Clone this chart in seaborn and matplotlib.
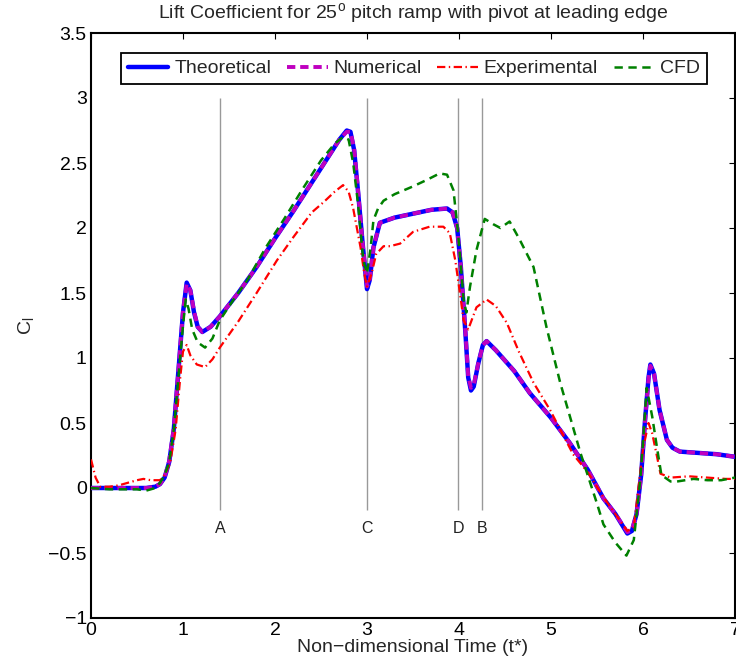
import numpy as np
import pandas as pd
import matplotlib
matplotlib.use("Agg")
import matplotlib.pyplot as plt
import seaborn as sns

# ---------------- data ----------------
theo_t = [0, 0.3, 0.6, 0.7, 0.75, 0.8, 0.85, 0.9, 0.95, 1.0, 1.04, 1.08, 1.12, 1.16, 1.21,
          1.3, 1.4, 1.6, 1.8, 2.0, 2.2, 2.4, 2.6, 2.7, 2.78, 2.82, 2.86, 2.9, 2.95, 3.0,
          3.03, 3.07, 3.14, 3.3, 3.5, 3.7, 3.87, 3.93, 3.98, 4.02, 4.07, 4.1, 4.13, 4.16,
          4.21, 4.26, 4.3, 4.4, 4.6, 4.77, 5.0, 5.2, 5.4, 5.57, 5.7, 5.83, 5.88, 5.93,
          5.98, 6.02, 6.06, 6.08, 6.12, 6.18, 6.26, 6.32, 6.4, 6.6, 6.8, 7.0]
theo_cl = [0, 0, 0, 0.01, 0.03, 0.08, 0.2, 0.45, 0.9, 1.35, 1.58, 1.52, 1.35, 1.24, 1.2,
           1.24, 1.32, 1.5, 1.7, 1.92, 2.13, 2.35, 2.57, 2.68, 2.75, 2.74, 2.6, 2.3, 1.9, 1.53,
           1.6, 1.85, 2.04, 2.08, 2.11, 2.14, 2.15, 2.12, 2.0, 1.7, 1.19, 0.85, 0.75, 0.78,
           0.96, 1.1, 1.13, 1.06, 0.9, 0.73, 0.54, 0.35, 0.14, -0.08, -0.2, -0.35, -0.33, -0.2,
           0.1, 0.5, 0.85, 0.95, 0.88, 0.6, 0.37, 0.31, 0.28, 0.27, 0.26, 0.24]

num_t = theo_t
num_cl = [0, 0, 0, 0.01, 0.03, 0.08, 0.21, 0.46, 0.9, 1.36, 1.57, 1.52, 1.36, 1.24, 1.2,
          1.24, 1.32, 1.5, 1.7, 1.92, 2.13, 2.35, 2.57, 2.68, 2.74, 2.74, 2.61, 2.31, 1.9, 1.55,
          1.6, 1.85, 2.04, 2.08, 2.11, 2.14, 2.15, 2.12, 2.0, 1.7, 1.2, 0.86, 0.77, 0.79,
          0.96, 1.1, 1.13, 1.06, 0.9, 0.73, 0.54, 0.35, 0.14, -0.08, -0.2, -0.34, -0.32, -0.2,
          0.1, 0.5, 0.84, 0.94, 0.88, 0.6, 0.37, 0.31, 0.28, 0.27, 0.26, 0.24]

exp_t = [0, 0.05, 0.1, 0.2, 0.3, 0.4, 0.5, 0.57, 0.65, 0.75, 0.8, 0.86, 0.92, 0.97, 1.0,
         1.04, 1.08, 1.15, 1.24, 1.32, 1.4, 1.6, 1.8, 2.02, 2.2, 2.4, 2.53, 2.65, 2.74, 2.8,
         2.85, 2.89, 2.93, 2.97, 3.0, 3.05, 3.1, 3.18, 3.25, 3.36, 3.5, 3.68, 3.83, 3.9,
         3.96, 4.01, 4.05, 4.1, 4.19, 4.3, 4.4, 4.52, 4.65, 4.81, 4.99, 5.1, 5.24, 5.4,
         5.57, 5.7, 5.83, 5.9, 5.95, 6.0, 6.06, 6.1, 6.15, 6.19, 6.3, 6.5, 6.7, 6.9, 7.0]
exp_cl = [0.22, 0.08, 0.01, 0.01, 0.02, 0.04, 0.06, 0.07, 0.06, 0.06, 0.1, 0.19, 0.45, 0.85, 1.05,
          1.1, 1.02, 0.95, 0.93, 0.99, 1.08, 1.28, 1.5, 1.75, 1.93, 2.12, 2.2, 2.28, 2.33, 2.28,
          2.15, 2.0, 1.85, 1.65, 1.55, 1.65, 1.8, 1.86, 1.86, 1.88, 1.97, 2.01, 2.01, 1.96,
          1.75, 1.5, 1.29, 1.22, 1.39, 1.45, 1.4, 1.27, 1.05, 0.81, 0.6, 0.45, 0.26, 0.12,
          -0.07, -0.2, -0.33, -0.3, 0.0, 0.3, 0.5, 0.42, 0.25, 0.11, 0.08, 0.09, 0.08, 0.07, 0.07]

cfd_t = [0, 0.2, 0.4, 0.5, 0.6, 0.7, 0.75, 0.8, 0.85, 0.9, 0.95, 1.0, 1.03, 1.06, 1.1,
         1.16, 1.24, 1.32, 1.4, 1.55, 1.7, 1.9, 2.1, 2.3, 2.5, 2.65, 2.74, 2.8, 2.85, 2.9,
         2.96, 3.0, 3.04, 3.07, 3.12, 3.18, 3.3, 3.5, 3.65, 3.79, 3.87, 3.94, 3.99, 4.05,
         4.08, 4.12, 4.19, 4.28, 4.37, 4.45, 4.55, 4.66, 4.81, 4.95, 5.1, 5.32, 5.5, 5.57,
         5.7, 5.82, 5.9, 5.97, 6.0, 6.04, 6.1, 6.15, 6.2, 6.3, 6.37, 6.55, 6.7, 6.85, 7.0]
cfd_cl = [0, -0.01, -0.01, -0.01, -0.02, 0.0, 0.04, 0.1, 0.2, 0.45, 0.85, 1.25, 1.45, 1.38, 1.22,
          1.12, 1.08, 1.15, 1.29, 1.45, 1.6, 1.85, 2.07, 2.3, 2.52, 2.65, 2.7, 2.68, 2.5, 2.2,
          1.75, 1.65, 1.85, 2.06, 2.15, 2.21, 2.26, 2.32, 2.37, 2.42, 2.41, 2.29, 1.96, 1.45,
          1.35, 1.55, 1.83, 2.07, 2.03, 2.0, 2.05, 1.91, 1.7, 1.24, 0.81, 0.27, -0.12, -0.28,
          -0.42, -0.52, -0.4, 0.06, 0.35, 0.77, 0.55, 0.32, 0.1, 0.05, 0.05, 0.07, 0.06, 0.06, 0.08]

series_names = ["Theoretical", "Numerical", "Experimental", "CFD"]

marker_t = [1.4, 3.0, 3.99, 4.25]
marker_labels = ["A", "C", "D", "B"]

x_ticks = [0, 1, 2, 3, 4, 5, 6, 7]
x_ticklabels = ["0", "1", "2", "3", "4", "5", "6", "7"]
y_ticks = [-1, -0.5, 0, 0.5, 1, 1.5, 2, 2.5, 3, 3.5]
y_ticklabels = ["\u22121", "\u22120.5", "0", "0.5", "1", "1.5", "2", "2.5", "3", "3.5"]

# ---------------- style ----------------
sns.set_style("white")
plt.rcParams["font.family"] = ["Liberation Sans", "DejaVu Sans"]
plt.rcParams["mathtext.fontset"] = "custom"
plt.rcParams["mathtext.rm"] = "Liberation Sans"
plt.rcParams["lines.scale_dashes"] = False

FS = 14

fig = plt.figure(figsize=(7.36, 6.70), dpi=100)
ax = fig.add_axes([91 / 736, 52 / 670, 644 / 736, 585 / 670])

styles = {
    "Theoretical": dict(color=(0, 0, 1), lw=3.2, dashes=None, z=3),
    "Numerical": dict(color=(0.75, 0, 0.75), lw=2.8, dashes=[6.0, 3.5], z=4),
    "Experimental": dict(color=(1, 0, 0), lw=1.6, dashes=[6.0, 2.5, 1.0, 2.5], z=5),
    "CFD": dict(color=(0, 0.5, 0), lw=1.8, dashes=[6.0, 4.0], z=6),
}
data = {
    "Theoretical": (theo_t, theo_cl),
    "Numerical": (num_t, num_cl),
    "Experimental": (exp_t, exp_cl),
    "CFD": (cfd_t, cfd_cl),
}

handles = []
for name in series_names:
    t, cl = data[name]
    df = pd.DataFrame({"t": t, "cl": cl})
    st = styles[name]
    sns.lineplot(data=df, x="t", y="cl", ax=ax, color=st["color"], lw=st["lw"],
                 sort=False, zorder=st["z"], label=name)
    line = ax.lines[-1]
    if st["dashes"] is not None:
        line.set_dashes(st["dashes"])
    handles.append(line)

# marker lines
ax.vlines(marker_t, -0.17, 3.0, color=(0.6, 0.6, 0.6), lw=1.0, zorder=1)
for tm, lab in zip(marker_t, marker_labels):
    ax.text(tm, -0.31, lab, ha="center", va="center", fontsize=11.5, color="#222222")

ax.set_xlim(0, 7)
ax.set_ylim(-1, 3.5)
ax.set_xticks(x_ticks)
ax.set_xticklabels(x_ticklabels)
ax.set_yticks(y_ticks)
ax.set_yticklabels(y_ticklabels)
ax.tick_params(direction="in", length=4.5, width=0.8, top=True, right=True,
               labelsize=FS, pad=3, color="black", labelcolor="black")
for sp in ax.spines.values():
    sp.set_visible(True)
    sp.set_color("black")
    sp.set_linewidth(1.5)

ax.set_xlabel("Non\u2212dimensional Time (t*)", fontsize=FS, labelpad=0)
ax.set_ylabel("C$_\\mathregular{l}$", fontsize=FS, labelpad=8)
ax.set_title("Lift Coefficient for 25$^\\mathregular{o}$ pitch ramp with pivot at leading edge",
             fontsize=FS, pad=10)

leg = ax.legend(handles=handles, labels=series_names, loc="upper center",
                bbox_to_anchor=(0.5015, 0.966), ncol=4, fontsize=FS, frameon=True,
                fancybox=False, handlelength=2.1, handletextpad=0.3, columnspacing=0.8,
                borderpad=0.35, borderaxespad=0)
leg.get_frame().set_edgecolor("black")
leg.get_frame().set_linewidth(1.3)
leg.get_frame().set_alpha(1)

fig.savefig("out.png", dpi=100)
